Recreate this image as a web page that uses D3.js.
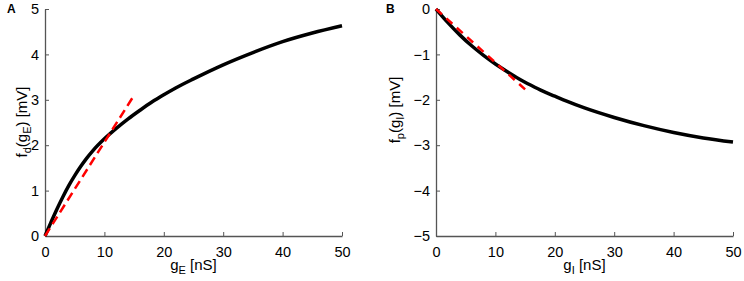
<!DOCTYPE html>
<html><head><meta charset="utf-8">
<script src="https://cdn.jsdelivr.net/npm/d3@7"></script>
<style>
body{margin:0;background:#fff;}
svg{display:block;font-family:"Liberation Sans",Arial,Helvetica,sans-serif;}
</style></head>
<body><svg id="chart" width="744" height="281"></svg>
<script>
// Panel A: f_d(g_E)
const gA = [0,1,2,3,4,5,6,7,8,10,12,14,16,18,20,22,25,30,35,40,45,50];
const fA = [0,0.30,0.59,0.86,1.11,1.33,1.53,1.71,1.87,2.14,2.37,2.58,2.77,2.95,3.11,3.26,3.46,3.77,4.04,4.28,4.47,4.63];
const linA_g = [0,15];
const linA_f = [0,3.1];
// Panel B: f_p(g_I)
const gB = [0,2,4,6,8,10,12,14,16,18,20,22,25,30,35,40,45,50];
const fB = [0,-0.30,-0.57,-0.81,-1.02,-1.21,-1.38,-1.54,-1.68,-1.81,-1.92,-2.03,-2.18,-2.39,-2.57,-2.72,-2.84,-2.93];
const linB_g = [0,15];
const linB_f = [0,-1.77];
const xTicks = [0,10,20,30,40,50];
const yTicksA = [0,1,2,3,4,5];
const yTicksB = [0,-1,-2,-3,-4,-5];

const svg = d3.select("#chart");
const axisColor = "#555";

function panel(opts){
  const x = d3.scaleLinear().domain([0,50]).range([opts.x0, opts.x1]);
  const y = d3.scaleLinear().domain(opts.ydom).range([opts.yb, opts.yt]);
  const g = svg.append("g");
  const xa = g.append("g").attr("transform",`translate(0,${opts.yb})`)
    .call(d3.axisBottom(x).tickValues(xTicks).tickSizeInner(-4).tickSizeOuter(0).tickPadding(8).tickFormat(d3.format("d")));
  const ya = g.append("g").attr("transform",`translate(${opts.x0},0)`)
    .call(d3.axisLeft(y).tickValues(opts.yticks).tickSizeInner(-4).tickSizeOuter(0).tickPadding(6).tickFormat(d=>d<0?"\u2212"+Math.abs(d):String(d)));
  [xa,ya].forEach(a=>{
    a.select(".domain").attr("stroke",axisColor).attr("stroke-width",1.3);
    a.selectAll(".tick line").attr("stroke",axisColor).attr("stroke-width",1);
    a.selectAll(".tick text").attr("fill","#000").style("font-size","14.5px").style("font-family","'Liberation Sans',Arial,sans-serif");
  });
  xa.selectAll(".tick text").attr("dy","0.9em");
  const line = d3.line().x(d=>x(d[0])).y(d=>y(d[1])).curve(d3.curveMonotoneX);
  g.append("path").datum(opts.g.map((v,i)=>[v,opts.f[i]]))
    .attr("d",line).attr("fill","none").attr("stroke","#000").attr("stroke-width",3.5);
  g.append("path").datum(opts.lg.map((v,i)=>[v,opts.lf[i]]))
    .attr("d",d3.line().x(d=>x(d[0])).y(d=>y(d[1])))
    .attr("fill","none").attr("stroke","#f00").attr("stroke-width",2.5).attr("stroke-dasharray",opts.dash);
  const xl = g.append("text").attr("x",(opts.x0+opts.x1)/2).attr("y",270).attr("text-anchor","middle").style("font-size","15px");
  xl.append("tspan").text("g");
  xl.append("tspan").text(opts.xsub).attr("dy",4).style("font-size","11px");
  xl.append("tspan").text(" [nS]").attr("dy",-4);
  const yl = g.append("text").attr("transform",`translate(${opts.ylx},${opts.yly}) rotate(-90)`).attr("text-anchor","middle").style("font-size","15px");
  yl.append("tspan").text("f");
  yl.append("tspan").text(opts.fsub).attr("dy",4).style("font-size","11px");
  yl.append("tspan").text("(g").attr("dy",-4);
  yl.append("tspan").text(opts.xsub).attr("dy",4).style("font-size","11px");
  yl.append("tspan").text(") [mV]").attr("dy",-4);
  g.append("text").attr("x",opts.lx).attr("y",13).text(opts.letter).style("font-size","12px").style("font-weight","bold");
}

panel({x0:45,x1:342,yb:236,yt:9,ydom:[0,5],yticks:yTicksA,g:gA,f:fA,lg:linA_g,lf:linA_f,dash:"9,5",
  xsub:"E",fsub:"d",ylx:27,yly:122,letter:"A",lx:7});
panel({x0:436,x1:733,yb:236,yt:9,ydom:[-5,0],yticks:yTicksB,g:gB,f:fB,lg:linB_g,lf:linB_f,dash:"8,6",
  xsub:"I",fsub:"p",ylx:400,yly:110,letter:"B",lx:386});
</script></body></html>
